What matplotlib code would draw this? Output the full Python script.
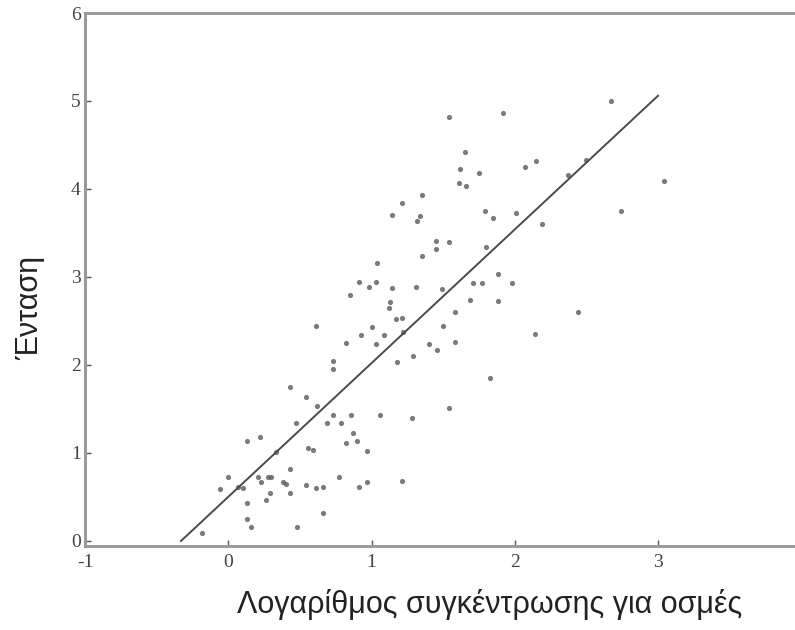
import matplotlib.pyplot as plt

plt.rcParams['axes.unicode_minus'] = False

# log concentration (x) vs intensity (y)
log_conc = [2.67, 1.92, 2.15, 2.07, 3.04, 2.01, 2.19, 2.74, 2.37, 2.50,
            2.44, 2.14, 1.83, 1.65, 1.62, 1.75, 1.61, 1.66, 1.35, 1.21,
            1.14, 1.34, 1.32, 1.79, 1.85, 1.45, 1.45, 1.54, 1.35, 1.80,
            1.54, 1.04, 0.91, 0.98, 1.03, 0.85, 1.14, 1.31, 1.49, 1.88,
            1.71, 1.77, 1.98, 1.69, 1.88, 1.58, 1.13, 1.12, 1.17, 1.21,
            1.00, 0.93, 1.09, 1.03, 1.22, 1.50, 1.40, 1.46, 1.58, 1.29,
            1.18, 0.61, 0.82, 0.73, 0.73, 0.43, 0.54, 0.62, 0.47, 0.69,
            0.13, 0.22, 0.33, 0.56, 0.59, 0.43, 0.00, -0.06, 0.07, 0.10,
            0.21, 0.28, 0.30, 0.23, 0.38, 0.40, 0.26, 0.29, 0.43, 0.54,
            0.61, 0.66, 0.13, 0.13, 0.16, 0.48, 0.66, -0.18, 0.73, 0.86,
            0.79, 1.06, 1.28, 1.54, 0.87, 0.82, 0.90, 0.97, 0.77, 0.91,
            0.97, 1.21]
intensity = [5.00, 4.86, 4.32, 4.25, 4.09, 3.73, 3.60, 3.75, 4.16, 4.33,
             2.60, 2.35, 1.85, 4.42, 4.23, 4.18, 4.07, 4.03, 3.93, 3.84,
             3.70, 3.69, 3.64, 3.75, 3.67, 3.41, 3.32, 3.40, 3.24, 3.34,
             4.82, 3.16, 2.94, 2.89, 2.94, 2.80, 2.87, 2.89, 2.86, 3.03,
             2.93, 2.93, 2.93, 2.74, 2.73, 2.60, 2.72, 2.65, 2.52, 2.53,
             2.43, 2.34, 2.34, 2.24, 2.37, 2.44, 2.24, 2.17, 2.26, 2.10,
             2.03, 2.44, 2.25, 2.05, 1.95, 1.75, 1.64, 1.53, 1.34, 1.34,
             1.14, 1.18, 1.01, 1.06, 1.03, 0.82, 0.73, 0.59, 0.61, 0.60,
             0.73, 0.73, 0.73, 0.67, 0.67, 0.65, 0.47, 0.55, 0.55, 0.64,
             0.60, 0.61, 0.43, 0.25, 0.16, 0.16, 0.32, 0.09, 1.43, 1.43,
             1.34, 1.43, 1.40, 1.51, 1.23, 1.11, 1.14, 1.02, 0.73, 0.61,
             0.67, 0.68]

# fitted line end points
fit_x = [-0.33, 3.0]
fit_y = [0.0, 5.06]

fig = plt.figure(figsize=(7.95, 6.3), dpi=100)
ax = fig.add_axes([85/795, 84/630, 710/795, 533/630])

ax.scatter(log_conc, intensity, s=14, color='#595959', alpha=0.8, linewidths=0)
ax.plot(fit_x, fit_y, color='#4a4a4a', lw=1.4)

ax.set_xlim(-1, 3.956)
ax.set_ylim(-0.057, 6.0)
ax.set_xticks([-1, 0, 1, 2, 3])
ax.set_yticks([0, 1, 2, 3, 4, 5, 6])

for side in ['left', 'bottom', 'top']:
    ax.spines[side].set_color('#9a9a9a')
    ax.spines[side].set_linewidth(2.2)
ax.spines['right'].set_visible(False)

ax.tick_params(direction='in', length=4, width=1, color='#555555',
               labelsize=14, labelcolor='#444444')
ax.tick_params(axis='x', pad=6)
ax.tick_params(axis='y', pad=3)
for lbl in ax.get_xticklabels() + ax.get_yticklabels():
    lbl.set_family('Liberation Serif')

fig.text(490/795, 0.04, 'Λογαρίθμος συγκέντρωσης για οσμές',
         ha='center', va='center', fontsize=22, family='Liberation Sans', color='#222222')
fig.text(30/795, 0.511, 'Ένταση', rotation=90, ha='center', va='center',
         fontsize=22, family='Liberation Sans', color='#222222')

fig.savefig('out.png', dpi=100)
